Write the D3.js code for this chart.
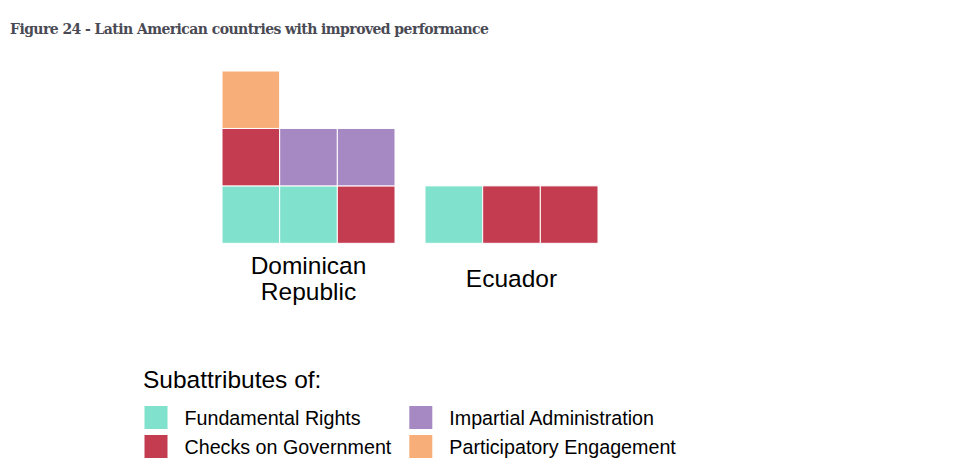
<!DOCTYPE html>
<html>
<head>
<meta charset="utf-8">
<script src="https://cdn.jsdelivr.net/npm/d3@7"></script>
<style>
  body { margin: 0; background: #fff; }
  svg { display: block; }
</style>
</head>
<body>
<div id="chart"></div>
<script>
// data
const countries = ['Dominican Republic', 'Ecuador']
const countryLines = [['Dominican', 'Republic'], ['Ecuador']]
const subattributes = ['Fundamental Rights', 'Checks on Government', 'Impartial Administration', 'Participatory Engagement']
const drCounts = [2, 2, 2, 1]
const ecCounts = [1, 2, 0, 0]
const colors = ['#80e1cc', '#c43c50', '#a689c2', '#f8ae79']

const width = 962
const height = 470

const svg = d3.select('#chart').append('svg')
    .attr('width', width)
    .attr('height', height)

svg.append('text')
    .attr('x', 10)
    .attr('y', 34)
    .attr('font-family', 'DejaVu Serif')
    .attr('font-weight', 'bold')
    .attr('font-size', 14)
    .attr('fill', '#4a4a55')
    .attr('textLength', 479)
    .attr('lengthAdjust', 'spacing')
    .text('Figure 24 - Latin American countries with improved performance')

// turn counts into waffle cells, filled left to right, bottom to top
const perRow = 3
const cellsFor = (counts) => {
    const cells = []
    counts.forEach((n, k) => {
        for (let j = 0; j < n; j++) cells.push(k)
    })
    return cells.map((k, i) => ({ cat: k, col: i % perRow, row: Math.floor(i / perRow) }))
}
const allCounts = [drCounts, ecCounts]

const xCountry = d3.scaleBand()
    .domain(countries)
    .range([222, 598])
    .paddingInner(30 / 203)

const xCol = d3.scaleBand()
    .domain(d3.range(perRow))
    .range([0, xCountry.bandwidth()])

const yRow = d3.scaleBand()
    .domain(d3.range(3))
    .range([243.3, 71])

const color = d3.scaleOrdinal()
    .domain(d3.range(subattributes.length))
    .range(colors)

const groups = svg.selectAll('g.country')
    .data(countries)
    .enter().append('g')
        .attr('class', 'country')
        .attr('transform', d => `translate(${xCountry(d)},0)`)

groups.selectAll('rect')
    .data((d, i) => cellsFor(allCounts[i]))
    .enter().append('rect')
        .attr('x', d => xCol(d.col))
        .attr('y', d => yRow(d.row))
        .attr('width', xCol.bandwidth())
        .attr('height', yRow.bandwidth())
        .attr('fill', d => color(d.cat))
        .attr('stroke', '#fff')
        .attr('stroke-width', 1)

// country labels under each block
const labelBase = [[273.5, 299.5], [286.6]]
groups.each(function (d, i) {
    const g = d3.select(this)
    countryLines[i].forEach((line, j) => {
        g.append('text')
            .attr('x', xCountry.bandwidth() / 2)
            .attr('y', labelBase[i][j])
            .attr('text-anchor', 'middle')
            .attr('font-family', 'Liberation Sans, Arial, sans-serif')
            .attr('font-size', 24.5)
            .attr('fill', '#000')
            .text(line)
    })
})

// legend
const legend = svg.append('g')
svg.append('text')
    .attr('x', 143)
    .attr('y', 388)
    .attr('font-family', 'Liberation Sans, Arial, sans-serif')
    .attr('font-size', 24.5)
    .attr('fill', '#000')
    .text('Subattributes of:')

const legCol = d3.scaleOrdinal().domain([0, 1]).range([144.5, 409.3])
const legRow = d3.scaleOrdinal().domain([0, 1]).range([406, 435])

const items = legend.selectAll('g')
    .data(subattributes)
    .enter().append('g')
        .attr('transform', (d, i) => `translate(${legCol(Math.floor(i / 2))},${legRow(i % 2)})`)

items.append('rect')
    .attr('width', 23)
    .attr('height', 23)
    .attr('fill', (d, i) => color(i))

items.append('text')
    .attr('x', 40)
    .attr('y', 19.3)
    .attr('font-family', 'Liberation Sans, Arial, sans-serif')
    .attr('font-size', 19.7)
    .attr('fill', '#000')
    .text(d => d)
</script>
</body>
</html>
